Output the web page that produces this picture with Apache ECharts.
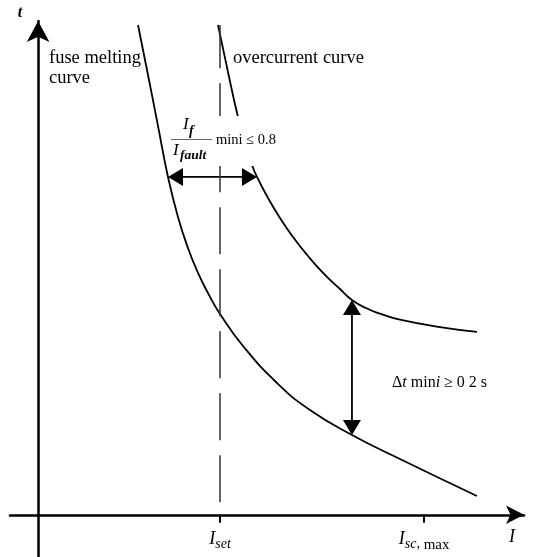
<!DOCTYPE html>
<html>
<head>
<meta charset="utf-8">
<script src="https://cdn.jsdelivr.net/npm/echarts@6/dist/echarts.min.js"></script>
<style>
  html, body { margin: 0; padding: 0; background: #fff; }
  #chart { width: 535px; height: 557px; }
</style>
</head>
<body>
<div id="chart"></div>
<script>
// Time-current characteristics, current I and time t in relative units
const fuseI = [2.060, 2.266, 2.472, 2.678, 2.884, 3.090, 3.297, 3.524, 3.751, 4.225, 4.926, 5.606, 6.472, 7.462, 9.049];
const fuseT = [9.741, 8.747, 7.733, 6.718, 5.922, 5.306, 4.809, 4.371, 3.994, 3.357, 2.621, 2.084, 1.587, 1.110, 0.374];
const overI = [3.709, 3.915, 4.122, 4.287, 4.410, 4.513, 4.740, 4.988, 5.256, 5.565, 5.916, 6.225, 6.472, 6.761, 7.049, 7.462, 8.287, 9.049];
const overT = [9.741, 8.807, 7.912, 7.335, 6.957, 6.718, 6.301, 5.903, 5.525, 5.147, 4.769, 4.490, 4.272, 4.112, 3.999, 3.880, 3.733, 3.638];

// Marked currents on the I axis: I_set and I_sc,max
const tickValues = [3.751, 7.96];
const tickLabels = ['{i|I}{s|set}', '{i|I}{s|sc,}{m| max}'];

// Extent of the dashed I_set guide line
const setLineT = [0.25, 9.74];

// Indices of the curve points joined by the coordination arrows
const marginIdx = { fuse: 3, over: 5 };    // current margin
const deltaIdx = { fuse: 12, over: 12 };   // time margin

const SERIF = '"Liberation Serif", "Times New Roman", serif';

const fuseData = fuseI.map((v, i) => [v, fuseT[i]]);
const overData = overI.map((v, i) => [v, overT[i]]);

// Double-headed arrows: [I1, t1, I2, t2]
const arrowData = [
  [fuseI[marginIdx.fuse], fuseT[marginIdx.fuse], overI[marginIdx.over], overT[marginIdx.over]],
  [overI[deltaIdx.over], overT[deltaIdx.over], fuseI[deltaIdx.fuse], fuseT[deltaIdx.fuse]]
];

const chart = echarts.init(document.getElementById('chart'), null, { renderer: 'canvas' });

const curveStyle = { color: '#000', width: 1.8 };

function renderArrow(params, api) {
  const p1 = api.coord([api.value(0), api.value(1)]);
  const p2 = api.coord([api.value(2), api.value(3)]);
  const dx = p2[0] - p1[0], dy = p2[1] - p1[1];
  const len = Math.sqrt(dx * dx + dy * dy) || 1;
  const ux = dx / len, uy = dy / len;
  const nx = -uy, ny = ux;
  const L = 15, W = 9;
  const head = (tip, dir) => ({
    type: 'polygon',
    shape: { points: [
      tip,
      [tip[0] + dir * ux * L + nx * W, tip[1] + dir * uy * L + ny * W],
      [tip[0] + dir * ux * L - nx * W, tip[1] + dir * uy * L - ny * W]
    ] },
    style: { fill: '#000' }
  });
  return {
    type: 'group',
    children: [
      { type: 'line',
        shape: { x1: p1[0] + ux * L * 0.8, y1: p1[1] + uy * L * 0.8, x2: p2[0] - ux * L * 0.8, y2: p2[1] - uy * L * 0.8 },
        style: { stroke: '#000', lineWidth: 1.8 } },
      head(p1, 1),
      head(p2, -1)
    ]
  };
}

const subStyles = {
  i: { fontFamily: SERIF, fontStyle: 'italic', fontSize: 18, fill: '#000', lineHeight: 20 },
  s: { fontFamily: SERIF, fontStyle: 'italic', fontSize: 14, fill: '#000', lineHeight: 16, padding: [10, 0, 0, 0] },
  m: { fontFamily: SERIF, fontSize: 15, fill: '#000', lineHeight: 16, padding: [10, 0, 0, 0] }
};

chart.setOption({
  animation: false,
  backgroundColor: '#fff',
  grid: { left: 10, right: 11, top: 21, bottom: 0, containLabel: false, outerBoundsMode: 'none' },
  xAxis: {
    type: 'value',
    min: -0.58,
    max: 10.02,
    axisLine: {
      onZero: true,
      symbol: ['none', 'arrow'],
      symbolSize: [14, 18],
      lineStyle: { color: '#000', width: 2.5 }
    },
    axisTick: {
      show: true,
      customValues: tickValues,
      length: 8,
      lineStyle: { color: '#000', width: 2 }
    },
    axisLabel: { show: false },
    splitLine: { show: false }
  },
  yAxis: {
    type: 'value',
    min: -0.84,
    max: 9.82,
    axisLine: {
      onZero: true,
      symbol: ['none', 'arrow'],
      symbolSize: [17, 21],
      lineStyle: { color: '#000', width: 2.5 }
    },
    axisTick: { show: false },
    axisLabel: { show: false },
    splitLine: { show: false }
  },
  series: [
    {
      name: 'fuse melting curve',
      type: 'line',
      data: fuseData,
      smooth: 0.5,
      showSymbol: false,
      lineStyle: curveStyle,
      markLine: {
        silent: true,
        symbol: ['none', 'none'],
        label: { show: false },
        lineStyle: { color: '#333', width: 1.5, type: [47, 15] },
        data: [[
          { coord: [tickValues[0], setLineT[0]] },
          { coord: [tickValues[0], setLineT[1]] }
        ]]
      }
    },
    {
      name: 'overcurrent curve',
      type: 'line',
      data: overData,
      smooth: 0.5,
      showSymbol: false,
      lineStyle: curveStyle
    },
    {
      name: 'margins',
      type: 'custom',
      renderItem: renderArrow,
      data: arrowData,
      encode: { x: [0, 2], y: [1, 3] },
      silent: true,
      z: 3
    }
  ],
  graphic: [
    // axis names
    { type: 'text', x: 20, y: 13, z: 100,
      style: { text: 't', fontFamily: SERIF, fontStyle: 'italic', fontWeight: 'bold', fontSize: 16, fill: '#000', align: 'center', verticalAlign: 'middle' } },
    { type: 'text', x: 512, y: 537, z: 100,
      style: { text: 'I', fontFamily: SERIF, fontStyle: 'italic', fontSize: 18, fill: '#000', align: 'center', verticalAlign: 'middle' } },
    // curve names
    { type: 'text', x: 49, y: 58, z: 100,
      style: { text: 'fuse melting', fontFamily: SERIF, fontSize: 18.5, fill: '#000', align: 'left', verticalAlign: 'middle' } },
    { type: 'text', x: 49, y: 78, z: 100,
      style: { text: 'curve', fontFamily: SERIF, fontSize: 18.5, fill: '#000', align: 'left', verticalAlign: 'middle' } },
    { type: 'text', x: 233, y: 58, z: 100,
      style: { text: 'overcurrent curve', fontFamily: SERIF, fontSize: 18.5, fill: '#000', align: 'left', verticalAlign: 'middle' } },
    // current ratio condition
    { type: 'rect', z: 100, shape: { x: 170, y: 116, width: 110, height: 50 }, style: { fill: '#fff' } },
    { type: 'text', x: 183, y: 125, z: 101,
      style: { text: 'I', fontFamily: SERIF, fontStyle: 'italic', fontSize: 17, fill: '#000', align: 'left', verticalAlign: 'middle' } },
    { type: 'text', x: 189, y: 131, z: 101,
      style: { text: 'f', fontFamily: SERIF, fontStyle: 'italic', fontWeight: 'bold', fontSize: 14, fill: '#000', align: 'left', verticalAlign: 'middle' } },
    { type: 'line', z: 101, shape: { x1: 171, y1: 139.5, x2: 212, y2: 139.5 }, style: { stroke: '#666', lineWidth: 1 } },
    { type: 'text', x: 173, y: 151, z: 101,
      style: { text: 'I', fontFamily: SERIF, fontStyle: 'italic', fontSize: 17, fill: '#000', align: 'left', verticalAlign: 'middle' } },
    { type: 'text', x: 180, y: 156, z: 101,
      style: { text: 'fault', fontFamily: SERIF, fontStyle: 'italic', fontWeight: 'bold', fontSize: 13.5, fill: '#000', align: 'left', verticalAlign: 'middle' } },
    { type: 'text', x: 216, y: 140, z: 101,
      style: { text: 'mini ≤ 0.8', fontFamily: SERIF, fontSize: 14.5, fill: '#000', align: 'left', verticalAlign: 'middle' } },
    // time margin condition
    { type: 'text', x: 392, y: 383, z: 101,
      style: {
        text: '{d|Δ}{t|t}{n| min}{t|i}{n| ≥ 0 2 s}',
        rich: {
          d: { fontFamily: SERIF, fontSize: 16, fill: '#000' },
          t: { fontFamily: SERIF, fontStyle: 'italic', fontSize: 16, fill: '#000' },
          n: { fontFamily: SERIF, fontSize: 16, fill: '#000' }
        },
        align: 'left', verticalAlign: 'middle'
      } }
  ]
});

// Current labels under the marked ticks, placed from the axis scale
const tickGraphics = tickValues.map((v, k) => {
  const p = chart.convertToPixel({ gridIndex: 0 }, [v, 0]);
  return {
    type: 'text', id: 'tick-label-' + k, x: p[0], y: p[1] + 25, z: 100,
    style: { text: tickLabels[k], rich: subStyles, align: 'center', verticalAlign: 'middle' }
  };
});
chart.setOption({ graphic: tickGraphics });
</script>
</body>
</html>
